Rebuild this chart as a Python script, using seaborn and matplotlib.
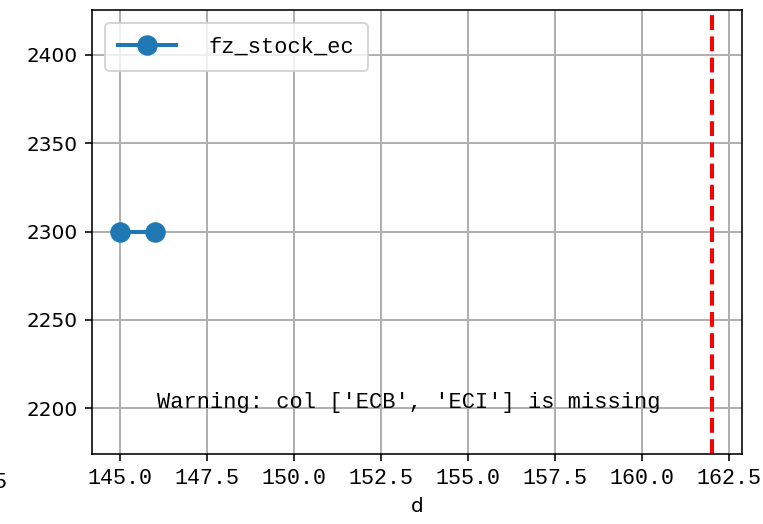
import matplotlib
matplotlib.use("Agg")
import matplotlib.pyplot as plt
import pandas as pd
import seaborn as sns

# data
d = [145, 146]
fz_stock_ec = [2300, 2300]
cutoff_d = 162
missing_cols = ["ECB", "ECI"]
ylim = (2174, 2425.5)

MONO = "Liberation Mono"

df = pd.DataFrame({"d": d, "fz_stock_ec": fz_stock_ec})

fig = plt.figure(figsize=(763 / 144, 524 / 144), dpi=144)
ax = fig.add_axes([0.1206, 0.1336, 0.8519, 0.8474])

sns.lineplot(
    data=df,
    x="d",
    y="fz_stock_ec",
    marker="o",
    markersize=9.5,
    markeredgecolor="#1f77b4",
    color="#1f77b4",
    linewidth=2,
    label="fz_stock_ec",
    ax=ax,
)
ax.axvline(cutoff_d, color="red", linestyle="--", linewidth=2)

ax.set_xlim(144.19, 162.86)
ax.set_ylim(*ylim)
ax.grid(True, color="#b0b0b0", linewidth=1)
ax.set_axisbelow(True)
ax.set_ylabel("")
ax.set_xlabel("d", fontsize=10)
ax.tick_params(axis="y", labelsize=10)
for lab in ax.get_xticklabels():
    lab.set_fontfamily(MONO)
    lab.set_fontsize(10.8)

ax.text(
    153.3, 2200,
    f"Warning: col {missing_cols} is missing",
    ha="center", va="baseline",
    fontsize=11, family=MONO,
)

ax.legend(
    loc="upper left",
    prop={"family": MONO, "size": 11},
    handlelength=2.6,
    handletextpad=1.5,
    borderpad=0.6,
    borderaxespad=0.6,
)

# clipped tail of a tick label at the left edge
fig.text(8 / 763, 1 - 483 / 524, "142.5", ha="right", va="center", family=MONO, fontsize=10.8)

fig.savefig("out.png", dpi=144)
